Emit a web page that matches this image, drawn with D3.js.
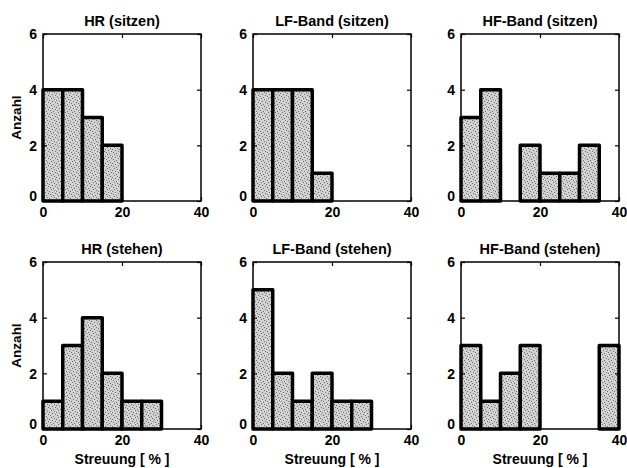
<!DOCTYPE html>
<html>
<head>
<meta charset="utf-8">
<script src="https://cdn.jsdelivr.net/npm/d3@7"></script>
<style>
  body { margin: 0; background: #fff; }
  text { font-family: "Liberation Sans", Arial, sans-serif; font-weight: bold; fill: #000; }
</style>
</head>
<body>
<div id="chart"></div>
<script>
// histogram bins: 0-5, 5-10, ... 35-40 (%)
var binStarts = [0, 5, 10, 15, 20, 25, 30, 35];
var binWidth = 5;
var titles = ["HR (sitzen)", "LF-Band (sitzen)", "HF-Band (sitzen)",
              "HR (stehen)", "LF-Band (stehen)", "HF-Band (stehen)"];
var hrSitzen = [4, 4, 3, 2, 0, 0, 0, 0];
var lfSitzen = [4, 4, 4, 1, 0, 0, 0, 0];
var hfSitzen = [3, 4, 0, 2, 1, 1, 2, 0];
var hrStehen = [1, 3, 4, 2, 1, 1, 0, 0];
var lfStehen = [5, 2, 1, 2, 1, 1, 0, 0];
var hfStehen = [3, 1, 2, 3, 0, 0, 0, 3];
var xTicks = [0, 20, 40];
var yTicks = [0, 2, 4, 6];
var yLabel = "Anzahl";
var xLabel = "Streuung [ % ]";

var allCounts = [hrSitzen, lfSitzen, hfSitzen, hrStehen, lfStehen, hfStehen];

var W = 627, H = 468;
var colX = [43, 253, 461];
var rowY = [34, 262];
var pw = 158, ph = 167;

var svg = d3.select("#chart")
  .append("svg")
    .attr("width", W)
    .attr("height", H);

// speckled grey fill like the scanned original
var defs = svg.append("defs");
var pat = defs.append("pattern")
    .attr("id", "speck")
    .attr("width", 7).attr("height", 7)
    .attr("patternUnits", "userSpaceOnUse");
pat.append("rect").attr("width", 7).attr("height", 7).attr("fill", "#d2d2d2");
[[1,1],[4,2],[2,4],[5,5],[0,6],[6,3],[3,0]].forEach(function(p) {
  pat.append("rect").attr("x", p[0]).attr("y", p[1])
    .attr("width", 1).attr("height", 1).attr("fill", "#6e6e6e");
});

allCounts.forEach(function(counts, i) {
  var col = i % 3, row = Math.floor(i / 3);
  var g = svg.append("g")
      .attr("transform", "translate(" + colX[col] + "," + rowY[row] + ")");

  var x = d3.scaleLinear().domain([0, 40]).range([0, pw]);
  var y = d3.scaleLinear().domain([0, 6]).range([ph, 0]);

  // box
  g.append("rect")
    .attr("width", pw).attr("height", ph)
    .attr("fill", "none").attr("stroke", "#000").attr("stroke-width", 1.5);

  // bars
  g.selectAll(".bar")
    .data(counts)
    .enter().append("rect")
      .attr("x", function(d, j) { return x(binStarts[j]); })
      .attr("y", function(d) { return y(d); })
      .attr("width", x(binWidth) - x(0))
      .attr("height", function(d) { return ph - y(d); })
      .attr("fill", "url(#speck)")
      .attr("stroke", "#000")
      .attr("stroke-width", 3.5)
      .attr("stroke-linejoin", "round");

  // axes with inward ticks
  g.append("g")
    .attr("transform", "translate(0," + ph + ")")
    .call(d3.axisBottom(x).tickValues(xTicks).tickFormat(d3.format("d"))
      .tickSizeInner(-4).tickSizeOuter(0).tickPadding(8))
    .call(function(a) {
      a.select(".domain").remove();
      a.selectAll("text").attr("font-size", 14).attr("font-family", null)
        .attr("dy", "0.6em");
    });
  g.append("g")
    .call(d3.axisLeft(y).tickValues(yTicks).tickFormat(d3.format("d"))
      .tickSizeInner(-4).tickSizeOuter(0).tickPadding(6))
    .call(function(a) {
      a.select(".domain").remove();
      a.selectAll("text").attr("font-size", 14).attr("font-family", null)
        .attr("dy", function(d) { return d === 0 ? "-0.05em" : "0.35em"; });
    });
  g.append("g")
    .attr("transform", "translate(" + pw + ",0)")
    .call(d3.axisRight(y).tickValues(yTicks).tickSizeInner(-4).tickSizeOuter(0).tickFormat(""))
    .select(".domain").remove();
  g.append("g")
    .call(d3.axisTop(x).tickValues(xTicks).tickSizeInner(-4).tickSizeOuter(0).tickFormat(""))
    .select(".domain").remove();
  g.selectAll(".tick line").attr("stroke", "#000").attr("stroke-width", 1.2);

  // title
  g.append("text")
    .attr("x", pw / 2).attr("y", -8)
    .attr("text-anchor", "middle")
    .attr("font-size", 14.5)
    .text(titles[i]);

  if (col === 0) {
    g.append("text")
      .attr("transform", "translate(-22," + (ph / 2) + ") rotate(-90)")
      .attr("text-anchor", "middle")
      .attr("font-size", 13.5)
      .text(yLabel);
  }
  if (row === 1) {
    g.append("text")
      .attr("x", pw / 2).attr("y", ph + 35)
      .attr("text-anchor", "middle")
      .attr("font-size", 14)
      .text(xLabel);
  }
});
</script>
</body>
</html>
